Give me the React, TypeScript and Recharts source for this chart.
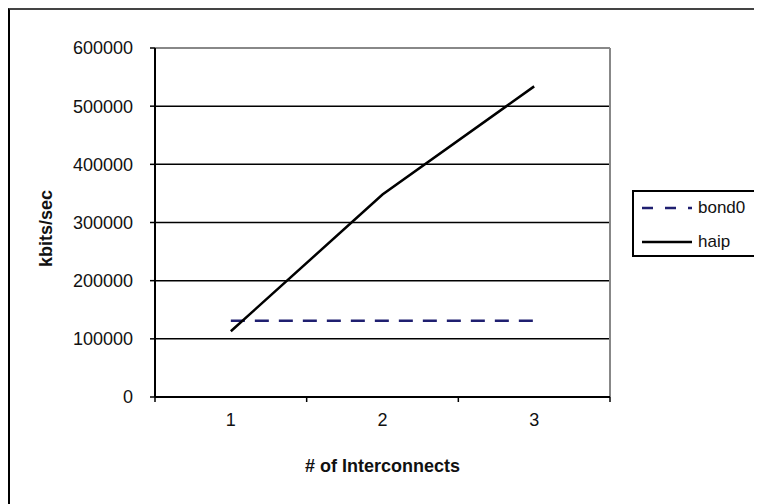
import {
  CartesianGrid,
  Legend,
  Line,
  LineChart,
  ReferenceLine,
  XAxis,
  YAxis,
} from "recharts";

const interconnects = [1, 2, 3];
const bond0 = [131000, 131000, 131000];
const haip = [113000, 348000, 534000];
const yTicks = [0, 100000, 200000, 300000, 400000, 500000, 600000];
// half steps carry the tick marks between categories, whole ones the labels
const xTicks = [0.5, 1, 1.5, 2, 2.5, 3, 3.5];

const data = interconnects.map((n, i) => ({ n, bond0: bond0[i], haip: haip[i] }));

const FONT = "'Liberation Sans', Arial, sans-serif";
const NAVY = "#1f1f70";

function XTick(props: any) {
  const { x, y, payload } = props;
  if (Number.isInteger(payload.value)) {
    return (
      <text x={x} y={y + 11} dy="0.71em" textAnchor="middle" fontFamily={FONT} fontSize={18} fill="#111">
        {payload.value}
      </text>
    );
  }
  return <line x1={x} x2={x} y1={y - 5} y2={y} stroke="#000" strokeWidth={1.5} />;
}

function LegendBox() {
  const rows = [
    { name: "bond0", color: NAVY, dash: "11 12" },
    { name: "haip", color: "#000", dash: undefined },
  ];
  return (
    <div
      style={{
        width: 120,
        height: 63,
        border: "2px solid #000",
        background: "#fff",
        fontFamily: FONT,
        fontSize: 17,
        color: "#111",
      }}
    >
      {rows.map((r, i) => (
        <div key={r.name} style={{ display: "flex", alignItems: "center", height: 26, marginTop: i === 0 ? 3 : 8 }}>
          <svg width={56} height={10} style={{ marginLeft: 8 }}>
            <line x1={0} x2={50} y1={5} y2={5} stroke={r.color} strokeWidth={2.5} strokeDasharray={r.dash} />
          </svg>
          <span>{r.name}</span>
        </div>
      ))}
    </div>
  );
}

export default function App() {
  return (
    <div style={{ width: 770, height: 500, border: "2px solid #000", borderTopColor: "#444", background: "#fff" }}>
      <LineChart width={760} height={496} data={data} margin={{ top: 38, right: 160, left: 0, bottom: 0 }}>
        <CartesianGrid horizontal vertical={false} stroke="#000" strokeWidth={1.5} />
        <XAxis
          type="number"
          dataKey="n"
          domain={[0.5, 3.5]}
          ticks={xTicks}
          interval={0}
          height={109}
          tickSize={5}
          tickMargin={0}
          tickLine={false}
          axisLine={{ stroke: "#000", strokeWidth: 2 }}
          tick={<XTick />}
          label={{
            content: (p: any) => {
              const vb = p.viewBox;
              return (
                <text x={vb.x + vb.width / 2} y={vb.y + 69} dominantBaseline="central" textAnchor="middle" fontFamily={FONT} fontWeight="bold" fontSize={18} fill="#111">
                  # of Interconnects
                </text>
              );
            },
          }}
        />
        <YAxis
          domain={[0, 600000]}
          ticks={yTicks}
          interval={0}
          width={145}
          tickSize={5}
          tickMargin={17}
          axisLine={{ stroke: "#000", strokeWidth: 2 }}
          tickLine={{ stroke: "#000", strokeWidth: 1.5 }}
          tick={{ fontFamily: FONT, fontSize: 18, fill: "#111" }}
          label={{
            content: (p: any) => {
              const vb = p.viewBox;
              const cx = 36;
              const cy = vb.y + vb.height / 2 + 6;
              return (
                <text x={cx} y={cy} transform={`rotate(-90, ${cx}, ${cy})`} dominantBaseline="central" textAnchor="middle" fontFamily={FONT} fontWeight="bold" fontSize={18} fill="#111">
                  kbits/sec
                </text>
              );
            },
          }}
        />
        <ReferenceLine y={600000} stroke="#888" strokeWidth={2} />
        <ReferenceLine x={3.5} stroke="#888" strokeWidth={2} />
        <Legend
          content={<LegendBox />}
          layout="horizontal"
          align="center"
          verticalAlign="middle"
          wrapperStyle={{ left: 622, top: 180, width: "auto" }}
        />
        <Line dataKey="bond0" name="bond0" stroke={NAVY} strokeWidth={2.5} strokeDasharray="14 10" dot={false} isAnimationActive={false} />
        <Line dataKey="haip" name="haip" stroke="#000" strokeWidth={2.5} dot={false} isAnimationActive={false} />
      </LineChart>
    </div>
  );
}
